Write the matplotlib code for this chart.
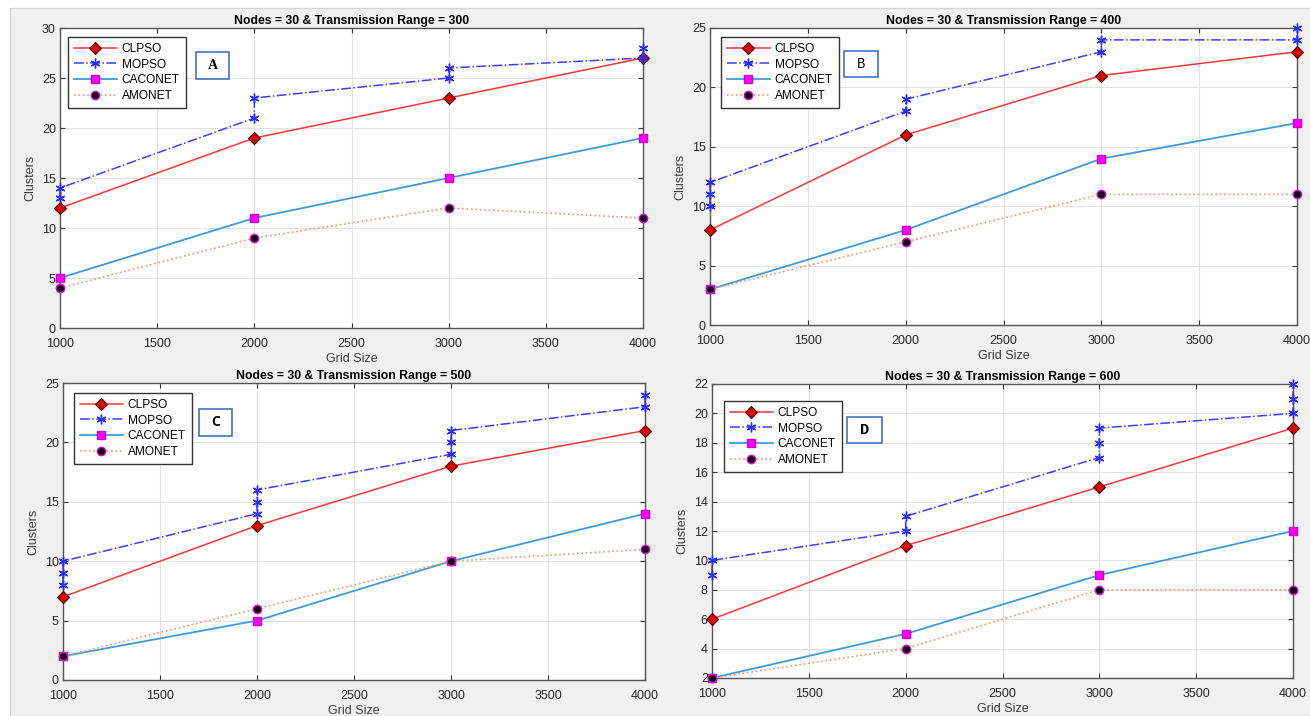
import matplotlib
matplotlib.use("Agg")
import matplotlib.pyplot as plt
from matplotlib.patches import Rectangle

plt.rcParams['font.family'] = ['Liberation Sans', 'DejaVu Sans']

W, H = 1310, 716

grid_size = [1000, 2000, 3000, 4000]
ranges = [300, 400, 500, 600]
panel_labels = ['A', 'B', 'C', 'D']

clpso = [[12, 19, 23, 27], [8, 16, 21, 23], [7, 13, 18, 21], [6, 11, 15, 19]]
caconet = [[5, 11, 15, 19], [3, 8, 14, 17], [2, 5, 10, 14], [2, 5, 9, 12]]
amonet = [[4, 9, 12, 11], [3, 7, 11, 11], [2, 6, 10, 11], [2, 4, 8, 8]]

# MOPSO has several stacked values at each grid size
mopso_x = [
    [1000, 1000, 2000, 2000, 3000, 3000, 4000, 4000],
    [1000, 1000, 1000, 2000, 2000, 3000, 3000, 4000, 4000],
    [1000, 1000, 1000, 2000, 2000, 2000, 3000, 3000, 3000, 4000, 4000],
    [1000, 1000, 2000, 2000, 3000, 3000, 3000, 4000, 4000, 4000],
]
mopso_y = [
    [13, 14, 21, 23, 25, 26, 27, 28],
    [10, 11, 12, 18, 19, 23, 24, 24, 25],
    [8, 9, 10, 14, 15, 16, 19, 20, 21, 23, 24],
    [9, 10, 12, 13, 17, 18, 19, 20, 21, 22],
]

ylims = [(0, 30), (0, 25), (0, 25), (2, 22)]
yticks = [list(range(0, 31, 5)), list(range(0, 26, 5)), list(range(0, 26, 5)), list(range(2, 23, 2))]
xticks = [1000, 1500, 2000, 2500, 3000, 3500, 4000]

# pixel boxes: left, top, right, bottom
axes_px = [(60, 28, 643, 328), (710, 28, 1297, 325), (63, 383, 645, 680), (712, 384, 1293, 678)]
legend_px = [(68, 37), (721, 37), (74, 393), (724, 401)]
labelbox_px = [(196, 52, 229, 79), (844, 51, 878, 77), (199, 409, 232, 436), (847, 417, 882, 443)]
label_fonts = [dict(family='Liberation Serif', weight='bold', size=10),
               dict(family='Liberation Mono', weight='normal', size=10),
               dict(family='Open Sans', weight='bold', size=10),
               dict(family='Liberation Mono', weight='bold', size=11)]

fig = plt.figure(figsize=(W / 100, H / 100), dpi=100, facecolor='white')
fig.patches.append(Rectangle((10 / W, 0), 1.2, 1 - 8 / H, transform=fig.transFigure,
                             facecolor='#f0f0f0', edgecolor='#d4d4d4', lw=1, zorder=-10))

asterisk = (6, 2, 0)
tick_color = '#262626'
for i in range(4):
    l, t, r, b = axes_px[i]
    ax = fig.add_axes([l / W, 1 - b / H, (r - l) / W, (b - t) / H])
    ax.set_facecolor('white')
    ax.plot(grid_size, clpso[i], '-', color='#ff3535', lw=1.1, marker='D', ms=6.5,
            mfc='#e00000', mec='#3a0000', mew=0.8, label='CLPSO', zorder=4, clip_on=False)
    ax.plot(mopso_x[i], mopso_y[i], '-.', color='#3d3dff', lw=1.1, marker=asterisk, ms=7,
            mfc='#2a2aff', mec='#2a2aff', mew=1.0, label='MOPSO', zorder=5, clip_on=False)
    ax.plot(grid_size, caconet[i], '-', color='#3e9bd6', lw=1.3, marker='s', ms=5.5,
            mfc='#ff00ff', mec='#d000d0', label='CACONET', zorder=3, clip_on=False)
    ax.plot(grid_size, amonet[i], ':', color='#f0927a', lw=1.2, marker='o', ms=6,
            mfc='black', mec='#e000e0', mew=1.0, label='AMONET', zorder=4, clip_on=False)

    ax.set_xlim(1000, 4000)
    ax.set_ylim(*ylims[i])
    ax.set_xticks(xticks)
    ax.set_yticks(yticks[i])
    ax.grid(True, color='#e2e2e2', lw=0.8)
    ax.set_axisbelow(True)
    ax.tick_params(direction='in', top=True, right=True, length=3.5, width=0.8,
                   labelsize=9, colors='#3a3a3a', labelcolor=tick_color)
    ax.tick_params(axis='x', pad=7)
    ax.tick_params(axis='y', pad=3)
    for s in ax.spines.values():
        s.set_color('#555555')
        s.set_linewidth(1.0)
    ax.set_title(f'Nodes = 30 & Transmission Range = {ranges[i]}', fontsize=8.8,
                 fontweight='bold', color='black', pad=3)
    ax.set_xlabel('Grid Size', fontsize=9, color='#3a3a3a', labelpad=2.5)
    ax.set_ylabel('Clusters', fontsize=9, color='#3a3a3a', labelpad=4)

    lx, ly = legend_px[i]
    leg = ax.legend(loc='upper left', bbox_to_anchor=(lx / W, 1 - ly / H),
                    bbox_transform=fig.transFigure, borderaxespad=0,
                    fontsize=8.6, frameon=True, fancybox=False, handlelength=3.6,
                    handletextpad=0.4, labelspacing=0.3, borderpad=0.5)
    leg.get_frame().set_edgecolor('#333333')
    leg.get_frame().set_linewidth(1.0)
    leg.get_frame().set_alpha(1)

    bx0, by0, bx1, by1 = labelbox_px[i]
    fig.patches.append(Rectangle((bx0 / W, 1 - by1 / H), (bx1 - bx0) / W, (by1 - by0) / H,
                                 transform=fig.transFigure, facecolor='white',
                                 edgecolor='#4472c4', lw=1.2, zorder=5))
    fig.text((bx0 + bx1) / 2 / W, 1 - (by0 + by1) / 2 / H, panel_labels[i],
             ha='center', va='center', color='black', zorder=6, **label_fonts[i])

fig.savefig('out.png', dpi=100, facecolor=fig.get_facecolor())
